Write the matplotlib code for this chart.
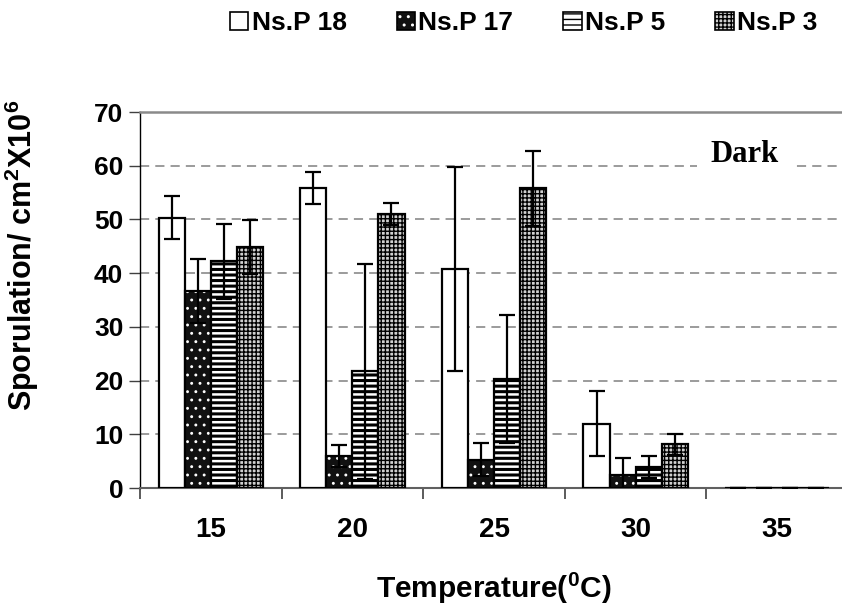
import numpy as np
import matplotlib
matplotlib.use("Agg")
import matplotlib.pyplot as plt
from matplotlib.patches import Patch

plt.rcParams["font.family"] = ["Liberation Sans", "DejaVu Sans"]
plt.rcParams["font.weight"] = "bold"
plt.rcParams["mathtext.fontset"] = "custom"
plt.rcParams["mathtext.rm"] = "Liberation Sans:bold"
plt.rcParams["mathtext.bf"] = "Liberation Sans:bold"
plt.rcParams["mathtext.it"] = "Liberation Sans:bold"
plt.rcParams["mathtext.default"] = "bf"

# ── data ──────────────────────────────────────────────────────────────────────
temperatures = ["15", "20", "25", "30", "35"]
series_names = ["Ns.P 18", "Ns.P 17", "Ns.P 5", "Ns.P 3"]

nsp18     = [50.3, 55.8, 40.7, 12.0, 0.0]
nsp18_err = [4.0, 3.0, 19.0, 6.0, 0.0]
nsp17     = [36.7, 6.0, 5.3, 2.5, 0.0]
nsp17_err = [6.0, 2.0, 3.0, 3.0, 0.0]
nsp5      = [42.2, 21.7, 20.3, 3.9, 0.0]
nsp5_err  = [7.0, 20.0, 12.0, 2.0, 0.0]
nsp3      = [44.9, 51.0, 55.8, 8.1, 0.0]
nsp3_err  = [5.0, 2.0, 7.0, 2.0, 0.0]

values = [nsp18, nsp17, nsp5, nsp3]
errors = [nsp18_err, nsp17_err, nsp5_err, nsp3_err]

# ── figure ─────────────────────────────────────────────────────────────────────
fig = plt.figure(figsize=(8.42, 6.16), dpi=100)
ax = fig.add_axes([140 / 842, 128 / 616, 708 / 842, 376 / 616])

xs = np.arange(len(temperatures))
bar_w = 0.184


def _hatch_lw(container, lw):
    for p in container:
        if hasattr(p, "set_hatch_linewidth"):
            p.set_hatch_linewidth(lw)


offs = [(j - 1.5) * bar_w for j in range(4)]

# Ns.P 18 - plain white
ax.bar(xs + offs[0], nsp18, bar_w, color="white", edgecolor="black",
       linewidth=1.6, zorder=3)

# Ns.P 17 - dark with white dots (fill + outline)
with plt.rc_context({"hatch.linewidth": 0.9}):
    b = ax.bar(xs + offs[1], nsp17, bar_w, color="#111111", edgecolor="white",
               hatch="..", linewidth=0, zorder=3)
    _hatch_lw(b, 0.9)
ax.bar(xs + offs[1], nsp17, bar_w, fill=False, edgecolor="black",
       linewidth=1.6, zorder=3)

# Ns.P 5 - horizontal stripes
with plt.rc_context({"hatch.linewidth": 2.2}):
    b = ax.bar(xs + offs[2], nsp5, bar_w, color="white", edgecolor="black",
               hatch="---", linewidth=1.6, zorder=3)
    _hatch_lw(b, 2.2)

# Ns.P 3 - checkered
with plt.rc_context({"hatch.linewidth": 1.0}):
    b = ax.bar(xs + offs[3], nsp3, bar_w, color="#d0d0d0", edgecolor="black",
               hatch="++++", linewidth=1.6, zorder=3)
    _hatch_lw(b, 1.0)

for j in range(4):
    ax.errorbar(xs + offs[j], values[j], yerr=errors[j], fmt="none",
                ecolor="black", elinewidth=1.6, capsize=5.5, capthick=1.6,
                zorder=4)

# axes
ax.set_xlim(-0.5, len(temperatures) - 0.5)
ax.set_ylim(0, 70)
ax.set_yticks(np.arange(0, 71, 10))
ax.tick_params(axis="y", direction="out", length=8, width=1, pad=4,
               labelsize=19, color="#404040")
ax.set_xticks(xs, temperatures)
ax.set_xticks(np.arange(-0.5, len(temperatures)), minor=True)
ax.tick_params(axis="x", which="major", length=0, pad=21, labelsize=20)
ax.tick_params(axis="x", which="minor", direction="out", length=8, width=1.2,
               color="#404040")
for lab in ax.get_xticklabels() + ax.get_yticklabels():
    lab.set_fontweight("bold")

ax.set_axisbelow(True)
ax.yaxis.grid(True, color="#808080", linestyle=(0, (6, 4)), linewidth=1.1)

ax.spines["right"].set_visible(False)
ax.spines["top"].set_color("#8a8a8a")
ax.spines["top"].set_linewidth(1.8)
ax.spines["bottom"].set_color("#606060")
ax.spines["bottom"].set_linewidth(1.5)
ax.spines["left"].set_color("black")
ax.spines["left"].set_linewidth(1.0)

ax.set_ylabel("Sporulation/ cm$^2$X10$^6$", fontsize=22, fontweight="bold")
ax.yaxis.set_label_coords(-0.14, 0.618)
ax.set_xlabel("Temperature($^0$C)", fontsize=21.5, fontweight="bold")
ax.xaxis.set_label_coords(0.5, -0.22)

ax.text(3.77, 62.0, "Dark", family=["Liberation Serif", "DejaVu Serif"],
        fontsize=22, fontweight="bold", ha="center", va="center", zorder=5,
        bbox=dict(boxstyle="square,pad=0.45", facecolor="white",
                  edgecolor="none"))

# legend
h18 = Patch(facecolor="white", edgecolor="black", linewidth=1.2)
h17 = (Patch(facecolor="#111111", edgecolor="white", hatch="..", linewidth=0),
       Patch(fill=False, edgecolor="black", linewidth=1.2))
h5 = Patch(facecolor="white", edgecolor="black", hatch="---", linewidth=1.2)
h3 = Patch(facecolor="#d0d0d0", edgecolor="black", hatch="++++", linewidth=1.2)
fig.legend([h18, h17, h5, h3], series_names, loc="center",
           bbox_to_anchor=(0.622, 0.962), ncol=4, frameon=False,
           handlelength=0.7, handleheight=0.7, handletextpad=0.12,
           columnspacing=1.9, prop={"weight": "bold", "size": 19})

fig.savefig("out.png", dpi=100)
